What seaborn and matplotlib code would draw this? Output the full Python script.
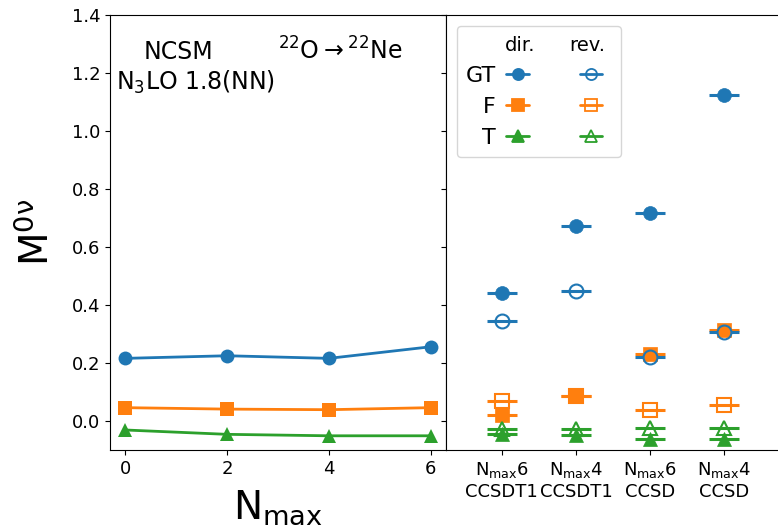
import matplotlib
matplotlib.use("Agg")
import matplotlib.pyplot as plt
import pandas as pd
import seaborn as sns
from matplotlib.lines import Line2D
from matplotlib.legend_handler import HandlerBase

# NCSM results versus model-space size
nmax = [0, 2, 4, 6]
ncsm_gt = [0.216, 0.225, 0.216, 0.256]
ncsm_f = [0.046, 0.041, 0.039, 0.046]
ncsm_t = [-0.031, -0.046, -0.051, -0.051]

# Coupled-cluster results, direct and reverse decay
cc_labels = ["N$_{\\mathrm{max}}$6\nCCSDT1", "N$_{\\mathrm{max}}$4\nCCSDT1",
             "N$_{\\mathrm{max}}$6\nCCSD", "N$_{\\mathrm{max}}$4\nCCSD"]
gt_dir = [0.442, 0.672, 0.718, 1.124]
gt_rev = [0.344, 0.448, 0.220, 0.307]
f_dir = [0.020, 0.087, 0.232, 0.315]
f_rev = [0.069, 0.087, 0.037, 0.055]
t_dir = [-0.046, -0.049, -0.063, -0.063]
t_rev = [-0.028, -0.029, -0.023, -0.025]

operators = ["GT", "F", "T"]
colors = ["#1f77b4", "#ff7f0e", "#2ca02c"]
markers = ["o", "s", "^"]

sns.set_style("ticks", {"axes.edgecolor": "black", "xtick.color": "black",
                        "ytick.color": "black", "text.color": "black",
                        "axes.labelcolor": "black"})
plt.rcParams["font.family"] = ["DejaVu Sans"]
plt.rcParams["mathtext.fontset"] = "dejavusans"

fig = plt.figure(figsize=(7.78, 5.3), dpi=100)
W, H = 778, 530
ax1 = fig.add_axes([110 / W, 80 / H, 336 / W, 435 / H])
ax2 = fig.add_axes([446 / W, 80 / H, 334 / W, 435 / H], sharey=ax1)

# ---- left panel: NCSM
df = pd.DataFrame({
    "Nmax": nmax * 3,
    "M": ncsm_gt + ncsm_f + ncsm_t,
    "op": sum([[o] * len(nmax) for o in operators], []),
})
sns.lineplot(data=df, x="Nmax", y="M", hue="op", style="op",
             hue_order=operators, style_order=operators,
             palette=colors, markers=markers, dashes=False,
             markersize=10, markeredgewidth=0, linewidth=2,
             legend=False, ax=ax1)
ax1.set_xticks(nmax)
ax1.set_ylim(-0.1, 1.4)
ax1.set_yticks([0.0, 0.2, 0.4, 0.6, 0.8, 1.0, 1.2, 1.4])
ax1.set_xlim(-0.3, 6.3)
ax1.tick_params(labelsize=13)
ax1.set_xlabel("N$_{\\mathrm{max}}$", fontsize=28, labelpad=8)
ax1.set_ylabel("M$^{0\\mathrm{\\nu}}$", fontsize=28, labelpad=10.5)
for s in ("top", "right"):
    ax1.spines[s].set_visible(True)

ax1.text(0.101, 0.898, "NCSM", transform=ax1.transAxes, fontsize=17,
         ha="left", va="baseline")
ax1.text(0.019, 0.828, "N$_3$LO 1.8(NN)", transform=ax1.transAxes,
         fontsize=17, ha="left", va="baseline")
ax1.text(0.500, 0.898, "$^{22}$O$\\rightarrow^{22}$Ne",
         transform=ax1.transAxes, fontsize=17, ha="left", va="baseline")

# ---- right panel: coupled cluster, dir. then rev.
xpos = list(range(len(cc_labels)))
series = [
    (gt_dir, 0, True), (f_dir, 1, True), (t_dir, 2, True),
    (gt_rev, 0, False), (f_rev, 1, False), (t_rev, 2, False),
]
for vals, k, filled in series:
    ax2.errorbar(xpos, vals, xerr=0.2, fmt=markers[k], color=colors[k],
                 ms=10, mfc=colors[k] if filled else "none",
                 mec=colors[k], mew=1.5 if not filled else 0.5,
                 elinewidth=2.2, capsize=0)
ax2.set_xticks(xpos)
ax2.set_xticklabels(cc_labels, fontsize=13)
ax2.set_xlim(-0.75, 3.75)
ax2.tick_params(axis="y", labelleft=False)
ax2.spines["top"].set_visible(True)
ax2.spines["right"].set_visible(False)


class BarMarkHandler(HandlerBase):
    """Legend entry: marker with a short horizontal bar through it."""

    def __init__(self, frac, bar):
        super().__init__()
        self.frac = frac
        self.bar = bar

    def create_artists(self, legend, orig_handle, xdescent, ydescent,
                       width, height, fontsize, trans):
        cx = -xdescent + width * self.frac
        cy = (height - ydescent) / 2
        half = self.bar * fontsize / 2
        bar = Line2D([cx - half, cx + half], [cy, cy],
                     color=orig_handle.get_color(),
                     lw=orig_handle.get_linewidth(), transform=trans)
        mark = Line2D([cx], [cy], linestyle="none",
                      marker=orig_handle.get_marker(),
                      ms=orig_handle.get_markersize(),
                      mfc=orig_handle.get_markerfacecolor(),
                      mec=orig_handle.get_markeredgecolor(),
                      mew=orig_handle.get_markeredgewidth(),
                      transform=trans)
        return [bar, mark]


def proxy(k, filled):
    return Line2D([], [], color=colors[k], lw=2, marker=markers[k], ms=8,
                  mfc=colors[k] if filled else "none", mec=colors[k],
                  mew=1.3)


blank1 = Line2D([], [], linestyle="none")
blank2 = Line2D([], [], linestyle="none")
dir_h = [proxy(k, True) for k in range(3)]
rev_h = [proxy(k, False) for k in range(3)]
handles = [blank1] + dir_h + [blank2] + rev_h
labels = [" "] + operators + [" "] * 4
hmap = {h: BarMarkHandler(0.48, 1.02) for h in dir_h}
hmap.update({h: BarMarkHandler(0.19, 1.02) for h in rev_h})
leg = ax2.legend(handles, labels, handler_map=hmap, ncol=2,
                 markerfirst=False, loc="upper left",
                 bbox_to_anchor=(0.032, 0.9747), borderaxespad=0,
                 fontsize=16, handlelength=1.2, handletextpad=0.4,
                 columnspacing=1.73)

ax2.text(0.2207, 0.917, "dir.", transform=ax2.transAxes, fontsize=14,
         ha="center", va="baseline", zorder=10)
ax2.text(0.4237, 0.917, "rev.", transform=ax2.transAxes, fontsize=14,
         ha="center", va="baseline", zorder=10)

fig.savefig("out.png", dpi=100)
